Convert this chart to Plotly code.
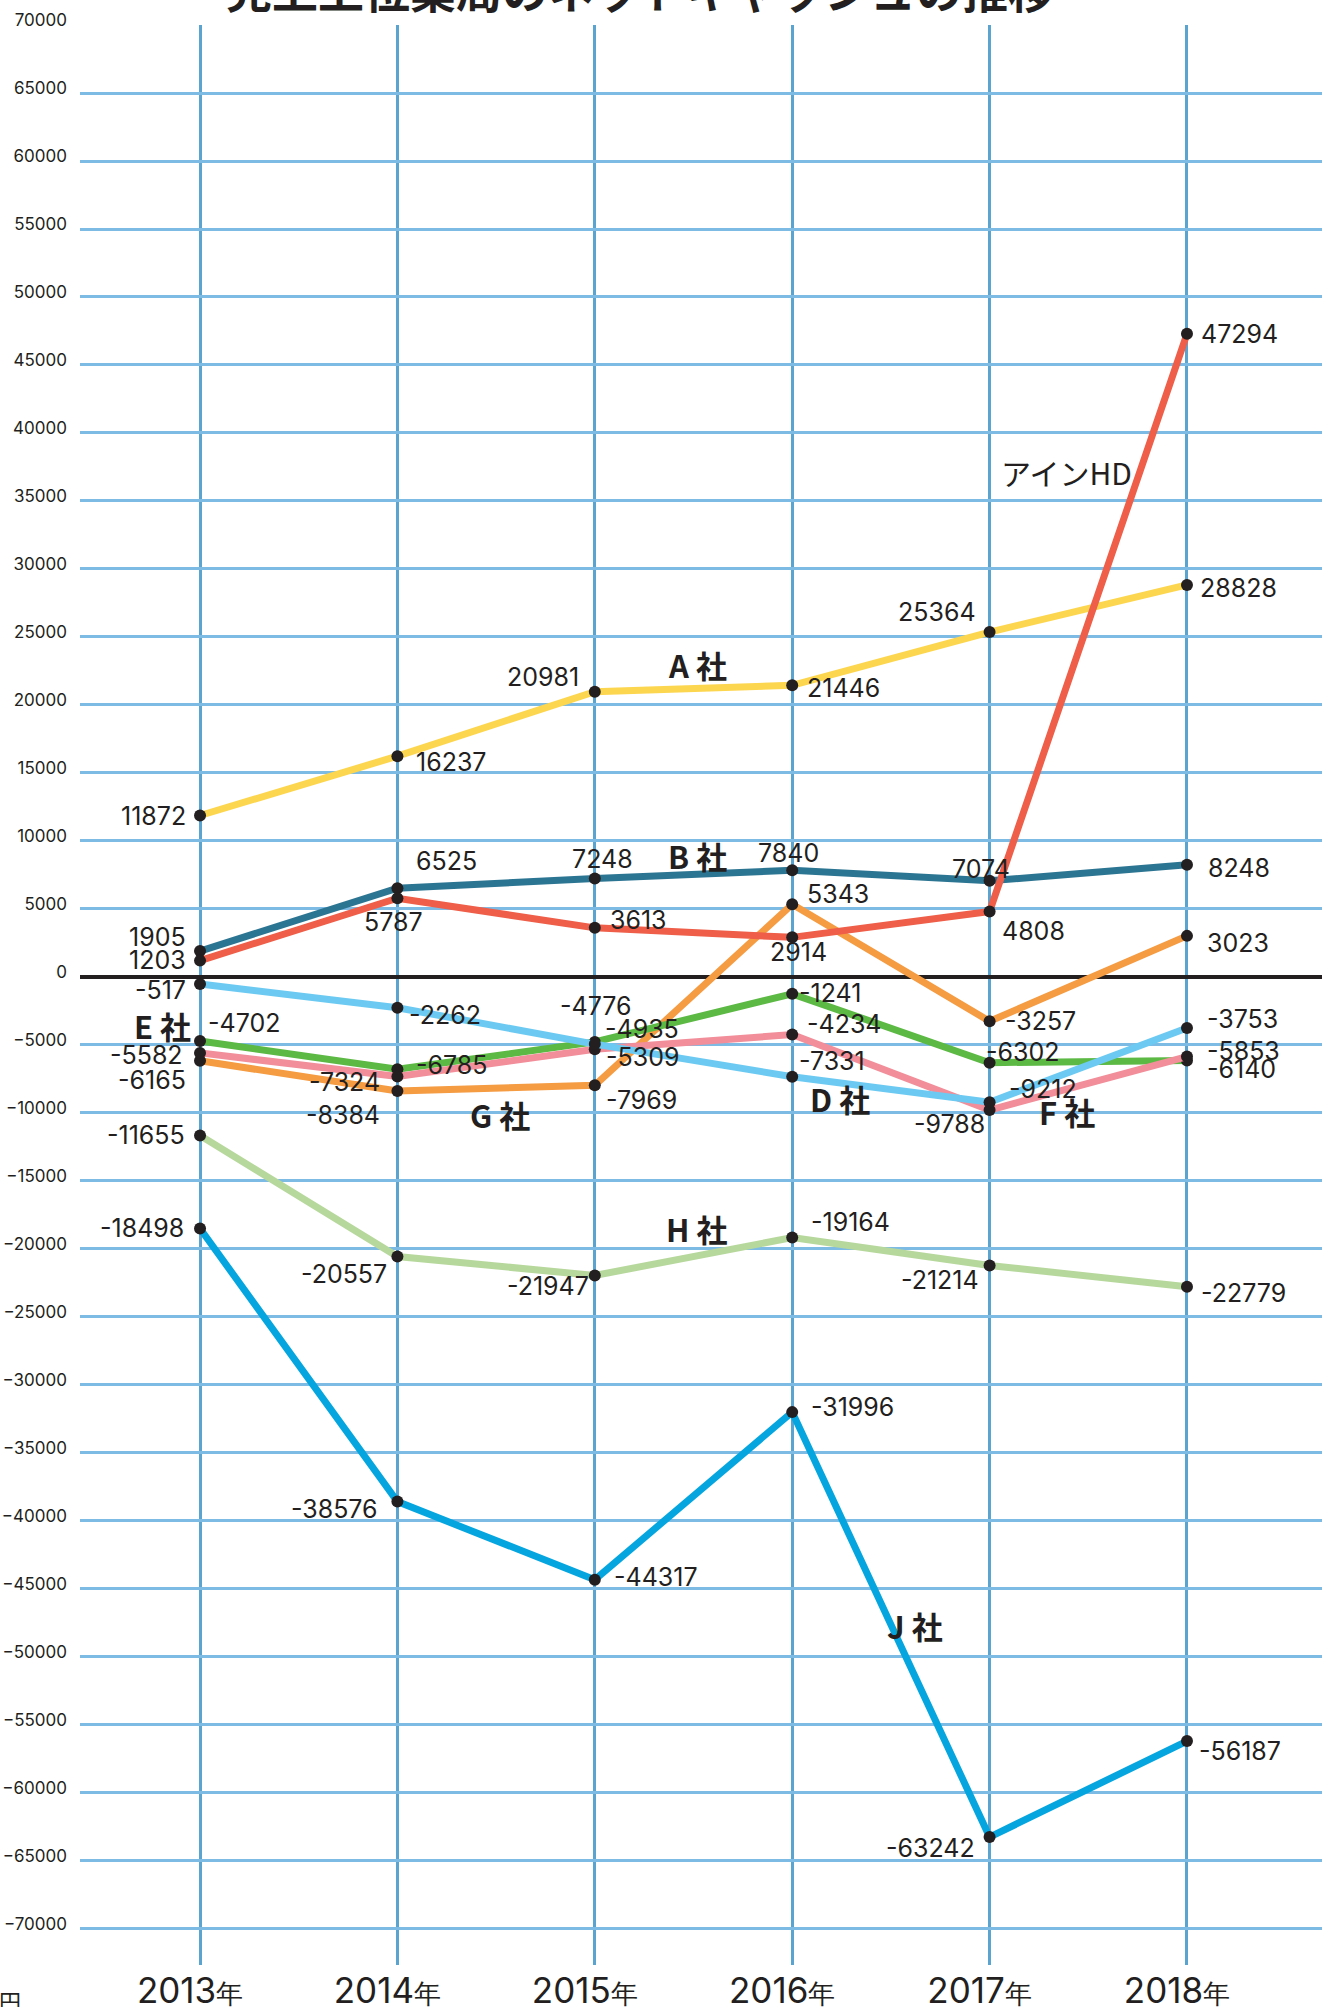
import plotly.graph_objects as go

years = ["2013", "2014", "2015", "2016", "2017", "2018"]
year_text = [f"{y}<span style='font-size:27px'>年</span>" for y in years]

series_names = ["H 社", "J 社", "A 社", "B 社", "G 社", "E 社", "F 社", "D 社", "アインHD"]
h_vals = [-11655, -20557, -21947, -19164, -21214, -22779]
j_vals = [-18498, -38576, -44317, -31996, -63242, -56187]
a_vals = [11872, 16237, 20981, 21446, 25364, 28828]
b_vals = [1905, 6525, 7248, 7840, 7074, 8248]
g_vals = [-6165, -8384, -7969, 5343, -3257, 3023]
e_vals = [-4702, -6785, -4776, -1241, -6302, -6140]
f_vals = [-5582, -7324, -5309, -4234, -9788, -5853]
d_vals = [-517, -2262, -4935, -7331, -9212, -3753]
ain_vals = [1203, 5787, 3613, 2914, 4808, 47294]

series_values = [h_vals, j_vals, a_vals, b_vals, g_vals, e_vals, f_vals, d_vals, ain_vals]
series_colors = ["#B7D89C", "#05A6E0", "#FDD64F", "#2C7592", "#F59B42",
                 "#5CB944", "#F18E99", "#6CCAF2", "#EE5E48"]

# value-label placement per point: (xanchor, xshift, yshift) in px
label_place = [
    [("right", -13, 0), ("right", -8, -17), ("right", -4, -11), ("left", 17, 16), ("right", -9, -15), ("left", 12, -6)],
    [("right", -14, 1), ("right", -17, -7), ("left", 17, 3), ("left", 17, 5), ("right", -13, -11), ("left", 10, -10)],
    [("right", -12, 0), ("left", 17, -6), ("right", -14, 15), ("left", 13, -3), ("right", -12, 20), ("left", 11, -3)],
    [("right", -12, 14), ("left", 17, 27), ("center", 8, 19), ("center", -4, 17), ("center", -9, 12), ("left", 19, -3)],
    [("right", -12, -19), ("right", -15, -24), ("left", 9, -15), ("left", 13, 10), ("left", 13, 0), ("left", 18, -7)],
    [("left", 6, 18), ("left", 17, 4), ("center", 1, 36), ("left", 5, 1), ("left", -6, 11), ("left", 18, -9)],
    [("right", -15, -2), ("right", -15, -5), ("left", 9, -8), ("left", 13, 11), ("right", -3, -14), ("left", 18, 6)],
    [("right", -12, -6), ("left", 10, -7), ("left", 8, 15), ("left", 5, 16), ("left", 17, 13), ("left", 18, 9)],
    [("right", -12, 1), ("center", -4, -24), ("left", 13, 8), ("center", 6, -15), ("left", 10, -19), ("left", 12, 0)],
]

# series name label positions (category index, value)
name_pos = [(2.52, -18500), (3.62, -47700), (2.52, 22950), (2.52, 8900), (1.52, -10100),
            (-0.19, -3600), (4.39, -9900), (3.24, -8900), (4.39, 37100)]
name_bold = [True, True, True, True, True, True, True, True, False]

ink = "#231F20"
num_font = "Inter, Liberation Sans, sans-serif"
jp_font = "Noto Sans CJK JP, sans-serif"

fig = go.Figure()
annotations = []
for name, vals, col, places, npos, bold in zip(series_names, series_values, series_colors,
                                               label_place, name_pos, name_bold):
    fig.add_trace(go.Scatter(
        x=years, y=vals, mode="lines+markers", name=name,
        line=dict(color=col, width=7),
        marker=dict(color=ink, size=12),
        showlegend=False, cliponaxis=False,
    ))
    for i, (v, (anc, dx, dy)) in enumerate(zip(vals, places)):
        annotations.append(dict(
            x=i, y=v, xref="x", yref="y", text=str(v), showarrow=False,
            xanchor=anc, yanchor="middle", xshift=dx, yshift=dy,
            font=dict(family=num_font, size=25, color=ink),
        ))
    annotations.append(dict(
        x=npos[0], y=npos[1], xref="x", yref="y",
        text=f"<b>{name}</b>" if bold else name, showarrow=False,
        xanchor="center", yanchor="middle",
        font=dict(family=jp_font, size=31 if bold else 30, color=ink),
    ))

annotations.append(dict(
    x=0.451, y=1.019, xref="paper", yref="paper",
    text="<b>売上上位薬局のネットキャッシュの推移</b>", showarrow=False,
    xanchor="center", yanchor="middle",
    font=dict(family=jp_font, size=46, color=ink),
))
annotations.append(dict(
    x=-0.046, y=-0.018, xref="paper", yref="paper", text="百万円", showarrow=False,
    xanchor="right", yanchor="middle",
    font=dict(family=jp_font, size=22, color=ink),
))

fig.update_layout(
    width=1330, height=2007,
    margin=dict(l=80, r=8, t=25, b=42),
    paper_bgcolor="white", plot_bgcolor="white",
    annotations=annotations,
    xaxis=dict(
        type="category", range=[-0.608, 5.684],
        tickvals=years, ticktext=year_text,
        showgrid=True, gridcolor="#5BA4D0", gridwidth=3,
        zeroline=False, showline=False, ticks="",
        tickfont=dict(family=num_font, size=35, color=ink),
        ticklabelstandoff=2, ticklabelshift=-10, automargin=False,
    ),
    yaxis=dict(
        range=[-72650, 70000],
        tickvals=list(range(-70000, 70001, 5000)),
        tickformat="d",
        showgrid=True, gridcolor="#7DBBE4", gridwidth=3,
        zeroline=True, zerolinecolor=ink, zerolinewidth=4,
        showline=False, ticks="",
        tickfont=dict(family=num_font, size=17, color=ink),
        ticklabelstandoff=12, ticklabelshift=-5, automargin=False,
    ),
)

fig.write_html("out.html", config={"displayModeBar": False},
               post_script="document.body.style.margin='0';")
